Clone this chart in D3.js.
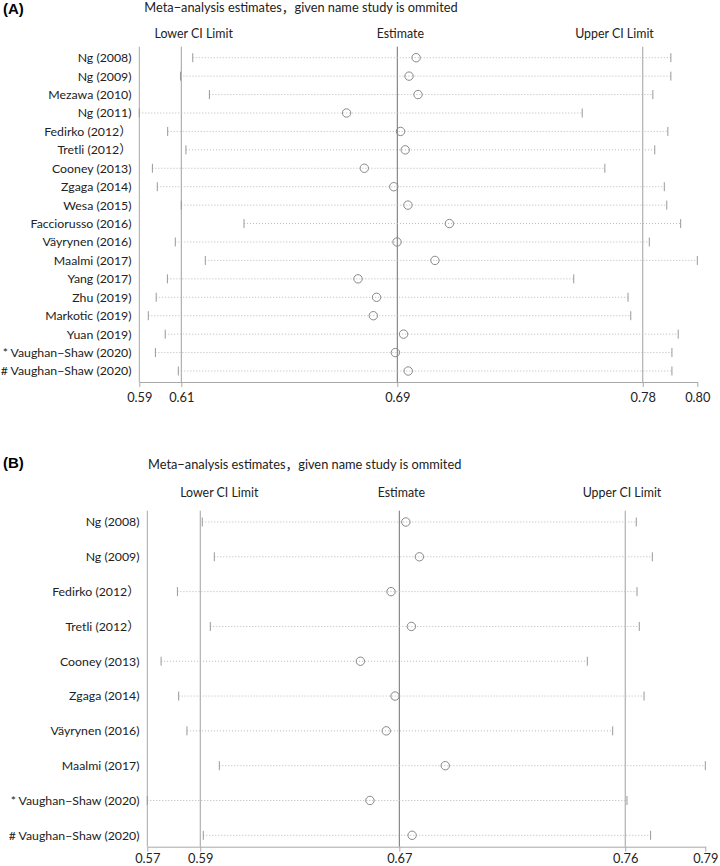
<!DOCTYPE html>
<html><head><meta charset="utf-8">
<script src="https://cdn.jsdelivr.net/npm/d3@7"></script>
<style>body{margin:0;background:#fff} svg{display:block}</style>
</head><body>
<svg id="c" width="720" height="866"></svg>
<script>
// ---------- data ----------
const titleText = "Meta\u2212analysis estimates\uFF0Cgiven name study is ommited";
const headerLabels = ["Lower CI Limit", "Estimate", "Upper CI Limit"];

const studiesA = ["Ng (2008)", "Ng (2009)", "Mezawa (2010)", "Ng (2011)", "Fedirko (2012\uFF09", "Tretli (2012\uFF09",
  "Cooney (2013)", "Zgaga (2014)", "Wesa (2015)", "Facciorusso (2016)", "Väyrynen (2016)", "Maalmi (2017)",
  "Yang (2017)", "Zhu (2019)", "Markotic (2019)", "Yuan (2019)", "* Vaughan\u2212Shaw (2020)", "# Vaughan\u2212Shaw (2020)"];
const lowerA = [0.6150, 0.6105, 0.6211, 0.5954, 0.6058, 0.6125, 0.6002, 0.6020, 0.6108, 0.6338, 0.6086, 0.6196, 0.6057, 0.6016, 0.5987, 0.6049, 0.6013, 0.6097];
const estA   = [0.6969, 0.6943, 0.6976, 0.6714, 0.6912, 0.6929, 0.6779, 0.6887, 0.6939, 0.7091, 0.6899, 0.7038, 0.6756, 0.6824, 0.6812, 0.6923, 0.6893, 0.6940];
const upperA = [0.7903, 0.7903, 0.7837, 0.7578, 0.7892, 0.7844, 0.7661, 0.7879, 0.7888, 0.7939, 0.7824, 0.8000, 0.7547, 0.7746, 0.7756, 0.7930, 0.7907, 0.7907];
const overallA = [0.6108, 0.69, 0.78];
const tickValsA = [0.5954, 0.6108, 0.69, 0.78, 0.80];
const tickLabelsA = ["0.59", "0.61", "0.69", "0.78", "0.80"];

const studiesB = ["Ng (2008)", "Ng (2009)", "Fedirko (2012\uFF09", "Tretli (2012\uFF09", "Cooney (2013)", "Zgaga (2014)",
  "Väyrynen (2016)", "Maalmi (2017)", "* Vaughan\u2212Shaw (2020)", "# Vaughan\u2212Shaw (2020)"];
const lowerB = [0.5915, 0.5963, 0.5816, 0.5947, 0.5751, 0.5821, 0.5854, 0.5983, 0.5696, 0.5919];
const estB   = [0.6726, 0.6780, 0.6667, 0.6748, 0.6545, 0.6683, 0.6648, 0.6883, 0.6583, 0.6751];
const upperB = [0.7644, 0.7708, 0.7647, 0.7656, 0.7449, 0.7675, 0.7550, 0.7919, 0.7607, 0.7701];
const overallB = [0.5907, 0.67, 0.76];
const tickValsB = [0.5696, 0.5907, 0.67, 0.76, 0.7919];
const tickLabelsB = ["0.57", "0.59", "0.67", "0.76", "0.79"];

// ---------- drawing ----------
const svg = d3.select("#c");
const FONT = "Lato, 'Noto Sans CJK SC', sans-serif";

function panel(o) {
  const g = svg.append("g");
  const x = d3.scaleLinear().domain([d3.min(o.lower), d3.max(o.upper)]).range([o.x0, o.x1]);
  const y = d3.scalePoint().domain(o.studies).range([o.rowTop, o.rowBot]);
  const rows = o.studies.map((s, i) => ({s, lo: o.lower[i], est: o.est[i], up: o.upper[i]}));

  g.append("text").attr("x", o.tagX).attr("y", o.tagY).text(o.tag)
    .attr("font-family", "'Liberation Sans', Arial, sans-serif").attr("font-weight", "bold")
    .attr("font-size", 15).attr("fill", "#000");
  g.append("text").attr("x", o.titleX).attr("y", o.titleY).attr("text-anchor", "middle")
    .attr("font-family", FONT).attr("font-size", 12.8).attr("fill", "#222").text(titleText);
  g.selectAll("text.hdr").data(headerLabels).join("text").attr("class", "hdr")
    .attr("x", (d, i) => o.headerX[i]).attr("y", o.headerY).attr("text-anchor", "middle")
    .attr("font-family", FONT).attr("font-size", 12.4).attr("fill", "#222").text(d => d);

  // left axis line
  g.append("line").attr("x1", o.x0).attr("x2", o.x0).attr("y1", o.lineTop).attr("y2", o.axisY)
    .attr("stroke", "#a8a8a8").attr("stroke-width", 1);
  // reference lines (overall lower, estimate, upper)
  g.selectAll("line.ref").data(o.overall).join("line").attr("class", "ref")
    .attr("x1", d => x(d)).attr("x2", d => x(d)).attr("y1", o.lineTop).attr("y2", o.axisY)
    .attr("stroke", (d, i) => i === 1 ? "#707070" : "#a0a0a0").attr("stroke-width", 1);

  // bottom axis
  const ax = d3.axisBottom(x).tickValues(o.ticks).tickFormat((d, i) => o.tickLabels[i]).tickSize(5).tickSizeOuter(0);
  const axg = g.append("g").attr("transform", `translate(0,${o.axisY})`).call(ax);
  axg.select(".domain").attr("stroke", "#a8a8a8");
  axg.selectAll(".tick line").attr("stroke", "#a8a8a8");
  axg.selectAll(".tick text").attr("font-family", FONT).attr("font-size", 12.8).attr("fill", "#222")
    .attr("y", o.tickLabelY).attr("dy", 0);

  // row labels
  g.selectAll("text.lab").data(rows).join("text").attr("class", "lab")
    .attr("x", o.labelRight).attr("y", d => y(d.s)).attr("dy", "0.36em").attr("text-anchor", "end")
    .attr("font-family", FONT).attr("font-size", 12.3).attr("fill", "#222").text(d => d.s);

  // dotted CI lines
  g.selectAll("line.ci").data(rows).join("line").attr("class", "ci")
    .attr("x1", d => x(d.lo)).attr("x2", d => x(d.up)).attr("y1", d => y(d.s)).attr("y2", d => y(d.s))
    .attr("stroke", "#b8b8b8").attr("stroke-width", 1).attr("stroke-dasharray", "1,2");
  // CI end ticks
  ["lo", "up"].forEach(k => {
    g.selectAll("line.end" + k).data(rows).join("line").attr("class", "end" + k)
      .attr("x1", d => x(d[k])).attr("x2", d => x(d[k])).attr("y1", d => y(d.s) - 4.5).attr("y2", d => y(d.s) + 4.5)
      .attr("stroke", "#999").attr("stroke-width", 1);
  });
  // estimates
  g.selectAll("circle.est").data(rows).join("circle").attr("class", "est")
    .attr("cx", d => x(d.est)).attr("cy", d => y(d.s)).attr("r", 4.2)
    .attr("fill", "none").attr("stroke", "#888").attr("stroke-width", 1);
}

panel({
  tag: "(A)", tagX: 3, tagY: 14, titleX: 301, titleY: 11.5, headerX: [193.7, 400.3, 614.5], headerY: 37.5,
  studies: studiesA, lower: lowerA, est: estA, upper: upperA, overall: overallA,
  ticks: tickValsA, tickLabels: tickLabelsA, tickLabelY: 20,
  x0: 139.3, x1: 697.3, rowTop: 57.7, rowBot: 371, lineTop: 46.7, axisY: 382, labelRight: 131.5
});
panel({
  tag: "(B)", tagX: 3, tagY: 468, titleX: 304.7, titleY: 468.5, headerX: [219.3, 401.3, 622], headerY: 497,
  studies: studiesB, lower: lowerB, est: estB, upper: upperB, overall: overallB,
  ticks: tickValsB, tickLabels: tickLabelsB, tickLabelY: 16.5,
  x0: 147.3, x1: 705.3, rowTop: 522, rowBot: 835.3, lineTop: 510.7, axisY: 846.7, labelRight: 139.5
});
</script>
</body></html>
